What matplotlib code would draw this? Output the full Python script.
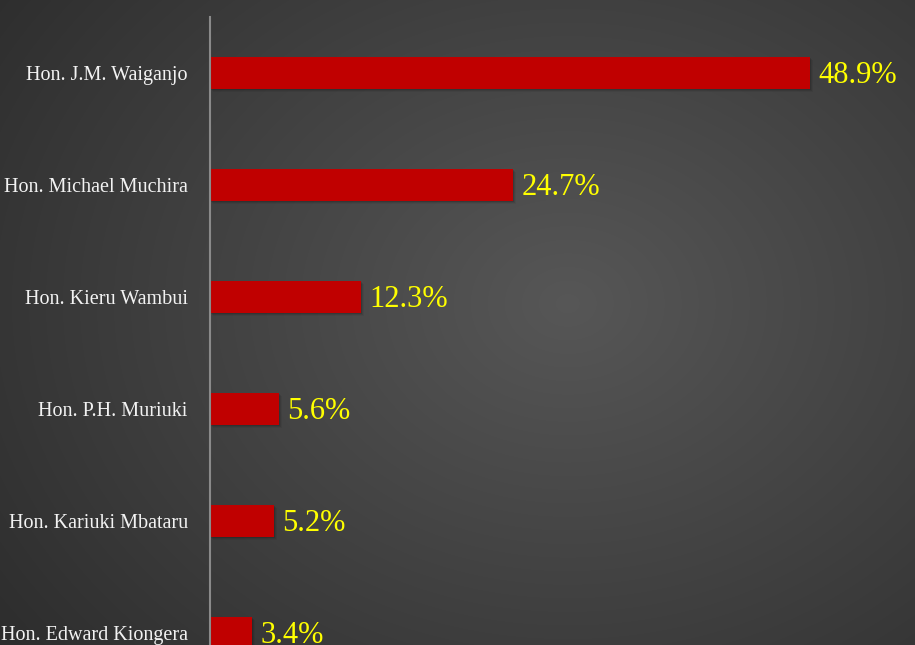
import numpy as np
import matplotlib
matplotlib.use("Agg")
import matplotlib.pyplot as plt

candidates = ["Hon. J.M. Waiganjo", "Hon. Michael Muchira", "Hon. Kieru Wambui",
              "Hon. P.H. Muriuki", "Hon. Kariuki Mbataru", "Hon. Edward Kiongera"]
shares = [48.9, 24.7, 12.3, 5.6, 5.2, 3.4]
value_labels = ["48.9%", "24.7%", "12.3%", "5.6%", "5.2%", "3.4%"]

W, H = 915, 645
fig = plt.figure(figsize=(W / 100, H / 100), dpi=100)

# background radial gradient
bg = fig.add_axes([0, 0, 1, 1])
yy, xx = np.mgrid[0:H, 0:W]
cx, cy = 0.62 * W, 0.47 * H
r = np.sqrt(((xx - cx) / (0.75 * W)) ** 2 + ((yy - cy) / (0.85 * H)) ** 2)
lum = 0.34 - 0.19 * np.clip(r, 0, 1.2) / 1.2
img = np.dstack([lum, lum, lum])
bg.imshow(img, aspect="auto", extent=[0, 1, 0, 1], origin="upper")
bg.set_axis_off()

# main axes (extends beyond bottom edge, as in the reference)
slot = 112
top_px = 17
n = len(candidates)
ax_h_px = slot * n
ax_left = 210 / W
ax_w = (W - 210) / W
ax_bottom = (H - top_px - ax_h_px) / H
ax = fig.add_axes([ax_left, ax_bottom, ax_w, ax_h_px / H])
ax.patch.set_alpha(0)

px_per_unit = 600 / 48.9
ax.set_xlim(0, (W - 210) / px_per_unit)
ax.set_ylim(n - 0.5, -0.5)

y = np.arange(n)
bh = 32 / slot
# soft shadow
for k, a in [(1, 0.12), (2, 0.08), (3, 0.05)]:
    ax.barh(y + 0.008 * k, shares, height=bh, left=0.08 * k, color="black",
            alpha=a, zorder=1, linewidth=0)
ax.barh(y, shares, height=bh, color="#C00000", zorder=2, linewidth=0)

for yi, v, lab in zip(y, shares, value_labels):
    ax.annotate(lab, (v, yi), xytext=(6, -2), textcoords="offset points",
                va="center", ha="left", color="#FFFF00",
                fontsize=22, family="Liberation Serif")

ax.set_yticks(y)
ax.set_yticklabels(candidates, family="Liberation Serif", fontsize=14.5, color="#F2F2F2")
ax.tick_params(axis="y", length=0, pad=16)
ax.set_xticks([])
for s in ["top", "right", "bottom"]:
    ax.spines[s].set_visible(False)
ax.spines["left"].set_color("#8A8A8A")
ax.spines["left"].set_linewidth(1.5)
ax.spines["left"].set_zorder(3)

fig.savefig("out.png", dpi=100)
